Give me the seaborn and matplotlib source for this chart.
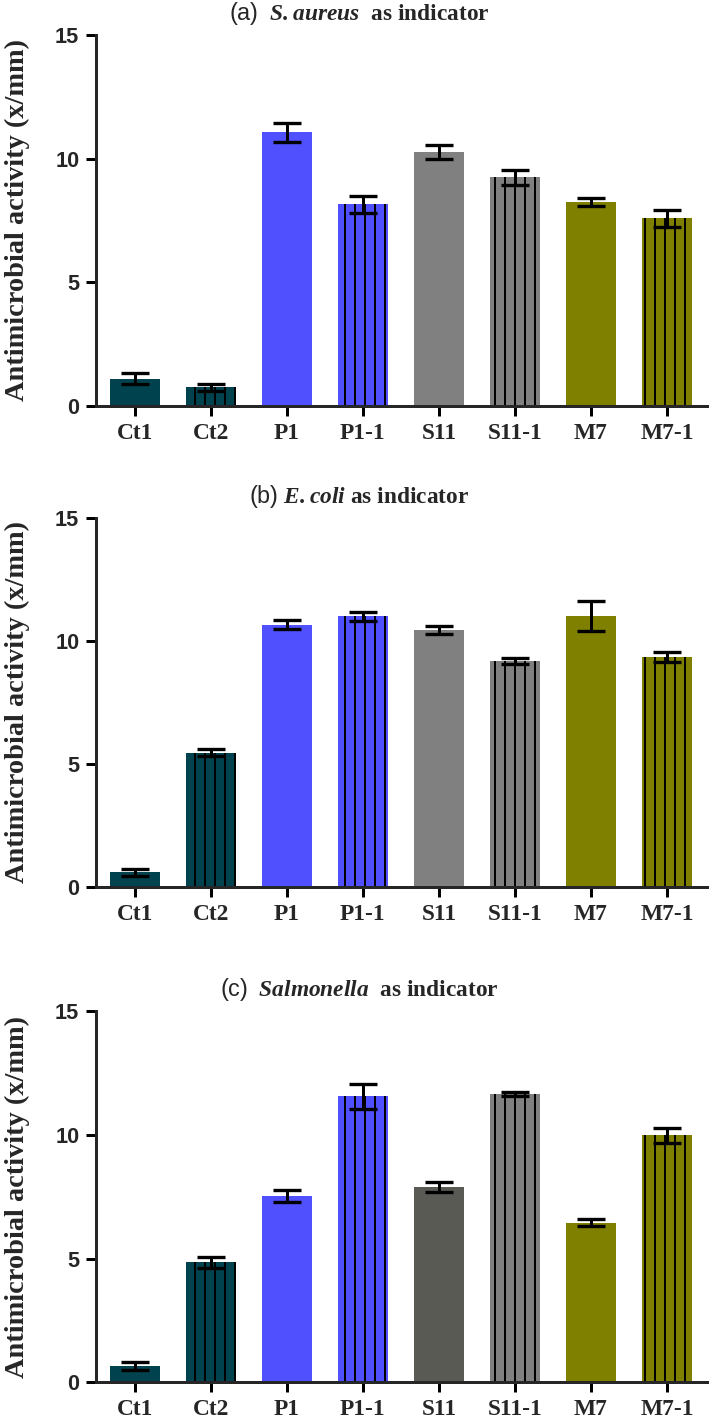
import matplotlib
matplotlib.use("Agg")
import matplotlib.pyplot as plt
import seaborn as sns

# sample names on the x axis
categories = ["Ct1", "Ct2", "P1", "P1-1", "S11", "S11-1", "M7", "M7-1"]

# (a) S.aureus
a_mean = [1.10, 0.75, 11.07, 8.15, 10.27, 9.24, 8.24, 7.59]
a_err = [0.22, 0.15, 0.39, 0.36, 0.28, 0.30, 0.15, 0.35]
# (b) E.coli
b_mean = [0.60, 5.46, 10.66, 11.00, 10.44, 9.17, 11.00, 9.35]
b_err = [0.14, 0.14, 0.18, 0.18, 0.16, 0.12, 0.60, 0.20]
# (c) Salmonella
c_mean = [0.65, 4.85, 7.54, 11.55, 7.90, 11.65, 6.45, 9.98]
c_err = [0.15, 0.22, 0.24, 0.52, 0.21, 0.09, 0.13, 0.31]

titles = [
    r"$\mathsf{(a)}$  $\mathbfit{S.aureus}$  as indicator",
    r"$\mathsf{(b)}$ $\mathbfit{E.coli}$ as indicator",
    r"$\mathsf{(c)}$  $\mathbfit{Salmonella}$  as indicator",
]

colors_ab = ["#00434F", "#00434F", "#5050FF", "#5050FF",
             "#808080", "#808080", "#808000", "#808000"]
colors_c = ["#00434F", "#00434F", "#5050FF", "#5050FF",
            "#5A5A55", "#808080", "#808000", "#808000"]
hatched = [False, True, False, True, False, True, False, True]

sns.set_style("ticks")
plt.rcParams["font.family"] = ["Liberation Serif", "DejaVu Serif"]
plt.rcParams["mathtext.fontset"] = "custom"
plt.rcParams["mathtext.rm"] = "Liberation Serif:bold"
plt.rcParams["mathtext.bfit"] = "Liberation Serif:italic:bold"
plt.rcParams["mathtext.sf"] = "Liberation Sans"
plt.rcParams["hatch.linewidth"] = 1.2

fig = plt.figure(figsize=(709 / 120, 1418 / 120), dpi=120)

# axes boxes [left, bottom, width, height] in figure fraction
boxes = [
    [0.1354, 0.7137, 0.8632, 0.2616],
    [0.1354, 0.3743, 0.8632, 0.2606],
    [0.1354, 0.0252, 0.8632, 0.2618],
]

panels = [(a_mean, a_err, colors_ab), (b_mean, b_err, colors_ab), (c_mean, c_err, colors_c)]

for box, (means, errs, cols), title in zip(boxes, panels, titles):
    ax = fig.add_axes(box)
    sns.barplot(x=categories, y=means, hue=categories, palette=cols,
                legend=False, width=0.66, saturation=1, ax=ax)
    for patch, h in zip(ax.patches, hatched):
        patch.set_linewidth(0)
        if h:
            patch.set_edgecolor("black")
            patch.set_hatch("||")
    ax.errorbar(range(len(categories)), means, yerr=errs, fmt="none",
                ecolor="black", elinewidth=1.8, capsize=8.5, capthick=2.0,
                zorder=5)

    ax.set_xlim(-0.51, 7.54)
    ax.set_ylim(0, 15)
    ax.set_yticks([0, 5, 10, 15])
    sns.despine(ax=ax)
    ax.spines["left"].set_bounds(0, 15)
    ax.spines["left"].set_linewidth(1.8)
    ax.spines["bottom"].set_linewidth(1.8)
    ax.tick_params(axis="both", width=1.8, length=6, color="black")
    ax.tick_params(axis="x", labelsize=14, pad=4)
    ax.tick_params(axis="y", labelsize=13, pad=4)
    for lab in ax.get_xticklabels():
        lab.set_fontweight("bold")
    for lab in ax.get_yticklabels():
        lab.set_fontweight("bold")
        lab.set_family(["Liberation Sans", "DejaVu Sans"])

    ax.set_xlabel("")
    ax.set_ylabel("Antimicrobial activity (x/mm)", fontsize=17, fontweight="bold")
    ax.yaxis.set_label_coords(-0.108, 0.5)
    ax.set_title(title, fontsize=14, fontweight="bold", x=0.43, pad=9)

fig.savefig("out.png", dpi=120)
